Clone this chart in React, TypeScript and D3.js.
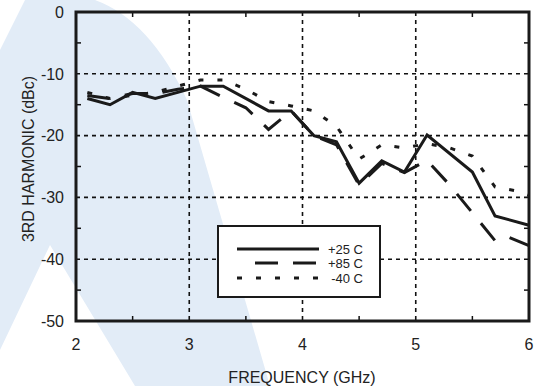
import React from "react";
import * as d3 from "d3";

const xTicks = [2, 3, 4, 5, 6];
const yTicks = [0, -10, -20, -30, -40, -50];
const xMinor = [2.5, 3.5, 4.5, 5.5];
const yMinor = [-5, -15, -25, -35, -45];

const freq25 = [2.1, 2.3, 2.5, 2.7, 3.1, 3.3, 3.7, 3.9, 4.1, 4.3, 4.5, 4.7, 4.9, 5.1, 5.5, 5.7, 6.0];
const val25 = [-14, -15, -13, -14, -12, -12, -16, -16, -20, -21, -27.7, -24.1, -25.9, -19.9, -25.9, -33, -34.5];

const freq85 = [2.1, 2.3, 2.5, 2.7, 2.9, 3.1, 3.3, 3.5, 3.7, 3.9, 4.1, 4.3, 4.5, 4.7, 4.9, 5.1, 5.3, 5.5, 5.7, 5.8, 6.0];
const val85 = [-13.5, -14, -13.2, -13.2, -12.5, -12, -13.8, -15.5, -19, -16, -20, -21.5, -28, -24.5, -26, -24, -28, -32.5, -37, -36.3, -37.8];

const freq40 = [2.1, 2.3, 2.5, 2.7, 2.9, 3.1, 3.3, 3.5, 3.7, 3.9, 4.1, 4.3, 4.5, 4.7, 4.9, 5.1, 5.3, 5.5, 5.7, 5.9, 6.0];
const val40 = [-13, -14, -13.5, -13, -12, -11, -11, -12.5, -14.5, -15.2, -16, -18.5, -23.8, -21.5, -22, -21.3, -22, -23.3, -28.3, -29, -29.7];

const seriesNames = ["+25 C", "+85 C", "-40 C"];
const dashes = ["none", "22,16", "5,14"];

const W = 543;
const H = 386;
const L = 76, R = 529, T = 12, B = 321;

export default function App() {
  const x = d3.scaleLinear().domain([2, 6]).range([L, R]);
  const y = d3.scaleLinear().domain([-50, 0]).range([B, T]);
  const line = d3
    .line<[number, number]>()
    .x((d) => x(d[0]))
    .y((d) => y(d[1]));
  const series: [number, number][][] = [
    freq25.map((f, i) => [f, val25[i]]),
    freq85.map((f, i) => [f, val85[i]]),
    freq40.map((f, i) => [f, val40[i]]),
  ];
  const font = "'Liberation Sans', Arial, Helvetica, sans-serif";
  const watermark = "M0,50 L25,0 L95,0 Q150,20 187,100 L270,386 L135,386 L50,245 L0,350 Z";

  const lgX = 218, lgY = 226, lgW = 162, lgH = 71;
  const lgRows = [249, 263, 278];

  return (
    <svg width={W} height={H} style={{ position: "absolute", left: 0, top: 0 }} fontFamily={font}>
      <rect x={0} y={0} width={W} height={H} fill="#fff" />
      <path d={watermark} fill="#e2ecf7" />
      {/* grid */}
      {xTicks.slice(1, -1).map((t) => (
        <line key={"gx" + t} x1={x(t)} x2={x(t)} y1={T} y2={B} stroke="#111" strokeWidth={1.6} strokeDasharray="4,4" />
      ))}
      {yTicks.slice(1, -1).map((t) => (
        <line key={"gy" + t} x1={L} x2={R} y1={y(t)} y2={y(t)} stroke="#111" strokeWidth={1.6} strokeDasharray="4,4" />
      ))}
      {/* minor ticks */}
      {xMinor.map((t) => (
        <g key={"mx" + t}>
          <line x1={x(t)} x2={x(t)} y1={B} y2={B - 5} stroke="#111" strokeWidth={1.5} />
          <line x1={x(t)} x2={x(t)} y1={T} y2={T + 5} stroke="#111" strokeWidth={1.5} />
        </g>
      ))}
      {yMinor.map((t) => (
        <g key={"my" + t}>
          <line x1={L} x2={L + 5} y1={y(t)} y2={y(t)} stroke="#111" strokeWidth={1.5} />
          <line x1={R} x2={R - 5} y1={y(t)} y2={y(t)} stroke="#111" strokeWidth={1.5} />
        </g>
      ))}
      {/* series */}
      {series.map((s, i) => (
        <path
          key={"s" + i}
          d={line(s) || ""}
          fill="none"
          stroke="#1a1a1a"
          strokeWidth={3}
          strokeDasharray={dashes[i]}
          strokeLinejoin="miter"
        />
      ))}
      {/* frame */}
      <rect x={L} y={T} width={R - L} height={B - T} fill="none" stroke="#1a1a1a" strokeWidth={3} />
      {/* tick labels */}
      {yTicks.map((t) => (
        <text key={"ty" + t} x={L - 12} y={y(t)} dy="0.36em" textAnchor="end" fontSize={16} fill="#222">
          {t}
        </text>
      ))}
      {xTicks.map((t) => (
        <text key={"tx" + t} x={x(t)} y={350} textAnchor="middle" fontSize={16} fill="#222">
          {t}
        </text>
      ))}
      <text x={302} y={383} textAnchor="middle" fontSize={16} fill="#222">
        FREQUENCY (GHz)
      </text>
      <text transform={`translate(34,${159}) rotate(-90)`} textAnchor="middle" fontSize={16} fill="#222">
        3RD HARMONIC (dBc)
      </text>
      {/* legend */}
      <rect x={lgX} y={lgY} width={lgW} height={lgH} fill="#fff" stroke="#1a1a1a" strokeWidth={2} />
      {seriesNames.map((n, i) => (
        <g key={"lg" + i}>
          <line
            x1={i === 1 ? 255 : 237}
            x2={319}
            y1={lgRows[i]}
            y2={lgRows[i]}
            stroke="#1a1a1a"
            strokeWidth={3}
            strokeDasharray={i === 1 ? "23,15" : dashes[i]}
          />
          <text x={363} y={lgRows[i]} dy="0.36em" textAnchor="end" fontSize={13} fill="#222">
            {n}
          </text>
        </g>
      ))}
    </svg>
  );
}
